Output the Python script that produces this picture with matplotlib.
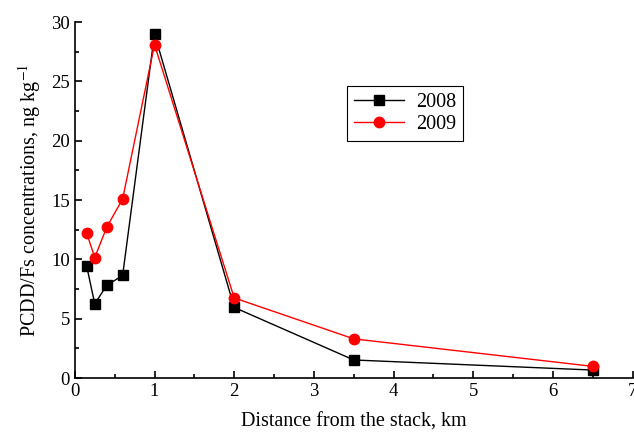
import matplotlib
matplotlib.use('Agg')
import matplotlib.pyplot as plt
from matplotlib.ticker import MultipleLocator

plt.rcParams['font.family'] = ['Liberation Serif', 'DejaVu Serif']
plt.rcParams['mathtext.fontset'] = 'stix'

dist = [0.15, 0.25, 0.4, 0.6, 1.0, 2.0, 3.5, 6.5]
y2008 = [9.4, 6.25, 7.8, 8.65, 29.0, 5.95, 1.52, 0.67]
y2009 = [12.2, 10.15, 12.7, 15.1, 28.1, 6.75, 3.3, 0.98]

fig = plt.figure(figsize=(6.34, 4.33), dpi=100)
ax = fig.add_axes([0.118, 0.127, 0.88, 0.822])

ax.plot(dist, y2008, color='black', marker='s', markersize=6.5, linewidth=1, label='2008')
ax.plot(dist, y2009, color='red', marker='o', markersize=7.5, linewidth=1, label='2009')

ax.set_xlim(0, 7)
ax.set_ylim(0, 30)
ax.xaxis.set_major_locator(MultipleLocator(1))
ax.xaxis.set_minor_locator(MultipleLocator(0.5))
ax.yaxis.set_major_locator(MultipleLocator(5))
ax.yaxis.set_minor_locator(MultipleLocator(2.5))
ax.tick_params(which='both', direction='in', labelsize=13.5, width=1.2)
ax.tick_params(which='major', length=5)
ax.tick_params(which='minor', length=3)
ax.spines['top'].set_visible(False)
ax.spines['right'].set_visible(False)
ax.spines['left'].set_linewidth(1.2)
ax.spines['bottom'].set_linewidth(1.2)

ax.set_xlabel('Distance from the stack, km', fontsize=14.5, labelpad=9)
ax.set_ylabel('PCDD/Fs concentrations, ng kg$^{-1}$', fontsize=14.5, labelpad=6)

leg = ax.legend(loc='upper left', bbox_to_anchor=(0.487, 0.82), fontsize=14.5,
                fancybox=False, edgecolor='black', framealpha=1,
                handlelength=2.5, borderpad=0.35, labelspacing=0.15,
                handletextpad=0.6, borderaxespad=0)
leg.get_frame().set_linewidth(0.8)

fig.savefig('out.png', dpi=100)
